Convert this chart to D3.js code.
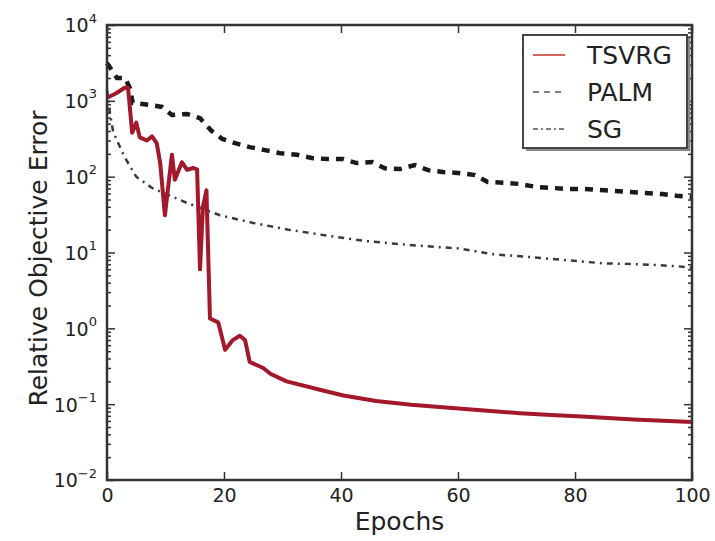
<!DOCTYPE html>
<meta charset="utf-8">
<script src="https://d3js.org/d3.v7.min.js"></script>
<style>
body { margin: 0; background: #fff; }
svg { display: block; }
text { font-family: "DejaVu Sans", sans-serif; fill: #222; }
.tick line { stroke: #333; stroke-width: 1.5px; }
</style>
<body>
<div class="chart"></div>
<script>

// values
var tsvrgEpochs = [0, 1.5, 3.1, 3.6, 4.3, 5, 5.6, 6.8, 7.7, 8.5, 9.1, 9.9, 11.1, 11.6, 12.8, 13.7, 14.7, 15.4, 15.9, 16.4, 17, 17.6, 19, 20.2, 21.5, 22.7, 23.6, 24.4, 26.7, 28, 30.7, 36.4, 40.4, 46, 52, 59, 65, 70.6, 76, 82, 90, 100];
var tsvrgValues = [1100, 1250, 1500, 1480, 380, 515, 330, 300, 340, 277, 150, 31, 195, 91, 155, 123, 130, 125, 6, 40, 66, 1.35, 1.2, 0.52, 0.7, 0.8, 0.7, 0.36, 0.30, 0.25, 0.2, 0.155, 0.13, 0.11, 0.098, 0.089, 0.082, 0.076, 0.072, 0.068, 0.063, 0.058];

var palmEpochs = [0, 1.7, 3.1, 3.9, 4.4, 7.4, 9.4, 11.1, 13.7, 15.9, 17.9, 19.7, 21.9, 24.4, 27, 29.6, 32.5, 35, 37.6, 40.3, 42.7, 45.3, 47.5, 50.1, 52.6, 54.9, 57.4, 60, 62.9, 65.1, 68, 70.6, 73.5, 76.1, 78.6, 81.4, 83.9, 86.5, 89.4, 92, 94.9, 97.4, 100];
var palmValues = [3160, 2000, 2000, 1480, 940, 880, 830, 650, 670, 590, 400, 315, 277, 245, 224, 204, 194, 176, 171, 171, 151, 156, 129, 126, 142, 122, 115, 112, 105, 85, 83, 80, 73, 71, 69, 69, 67, 65, 63, 61, 59, 56, 54];

var sgEpochs = [0, 0.5, 1, 1.7, 3, 5, 7.7, 13.7, 19.3, 25, 31, 37.8, 44, 50, 56.4, 59.8, 66, 72.3, 78.6, 84.8, 91, 97.4, 100];
var sgValues = [1400, 690, 410, 300, 182, 100, 71, 45, 31, 24.5, 20, 16.6, 14.2, 12.9, 11.8, 11.4, 9.5, 8.7, 7.9, 7.2, 7.0, 6.6, 6.3];

var seriesNames = ["TSVRG", "PALM", "SG"];
var xTicks = [0, 20, 40, 60, 80, 100];
var yExponents = [-2, -1, 0, 1, 2, 3, 4];

var width = 715, height = 541,
    margin = {top: 25, right: 23, bottom: 61, left: 107};

var svg = d3.select(".chart").append("svg")
    .attr("width", width)
    .attr("height", height);

var x = d3.scaleLinear().domain([0, 100]).range([margin.left, width - margin.right]);
var y = d3.scaleLog().domain([1e-2, 1e4]).range([height - margin.bottom, margin.top]);

var yMajor = yExponents.map(function(e) { return Math.pow(10, e); });
var yMinor = [];
yExponents.slice(0, -1).forEach(function(e) {
  for (var k = 2; k < 10; k++) yMinor.push(k * Math.pow(10, e));
});

// bottom / top axes
svg.append("g")
    .attr("transform", "translate(0," + y.range()[0] + ")")
    .call(d3.axisBottom(x).tickValues(xTicks).tickSizeInner(-8).tickSizeOuter(0).tickPadding(9))
    .call(function(g) { g.select(".domain").remove(); })
    .call(function(g) { g.selectAll("text").attr("font-size", 19).attr("fill", "#222"); });

svg.append("g")
    .attr("transform", "translate(0," + y.range()[1] + ")")
    .call(d3.axisTop(x).tickValues(xTicks).tickSizeInner(-8).tickSizeOuter(0).tickFormat(""))
    .call(function(g) { g.select(".domain").remove(); });

// left axis with 10^n labels
var left = svg.append("g")
    .attr("transform", "translate(" + x.range()[0] + ",0)")
    .call(d3.axisLeft(y).tickValues(yMajor).tickSizeInner(-8).tickSizeOuter(0).tickPadding(10).tickFormat(""))
    .call(function(g) { g.select(".domain").remove(); });

left.selectAll(".tick text").each(function(d) {
  var t = d3.select(this).attr("font-size", 19).attr("dy", "0.36em");
  var e = Math.round(Math.log10(d));
  t.append("tspan").text("10");
  t.append("tspan").attr("font-size", 13).attr("dy", "-0.75em")
    .text(e < 0 ? "\u2212" + (-e) : e);
});

svg.append("g")
    .attr("transform", "translate(" + x.range()[0] + ",0)")
    .call(d3.axisLeft(y).tickValues(yMinor).tickSizeInner(-4).tickSizeOuter(0).tickFormat(""))
    .call(function(g) { g.select(".domain").remove(); });

svg.append("g")
    .attr("transform", "translate(" + x.range()[1] + ",0)")
    .call(d3.axisRight(y).tickValues(yMajor).tickSizeInner(-8).tickSizeOuter(0).tickFormat(""))
    .call(function(g) { g.select(".domain").remove(); });

svg.append("g")
    .attr("transform", "translate(" + x.range()[1] + ",0)")
    .call(d3.axisRight(y).tickValues(yMinor).tickSizeInner(-4).tickSizeOuter(0).tickFormat(""))
    .call(function(g) { g.select(".domain").remove(); });

// lines
var line = d3.line()
    .x(function(d) { return x(d[0]); })
    .y(function(d) { return y(d[1]); });

var plot = svg.append("g");

plot.append("path")
    .datum(d3.zip(sgEpochs, sgValues))
    .attr("d", line)
    .attr("fill", "none")
    .attr("stroke", "#3a3a3a")
    .attr("stroke-width", 2.5)
    .attr("stroke-dasharray", "6,5,2,5");

plot.append("path")
    .datum(d3.zip(palmEpochs, palmValues))
    .attr("d", line)
    .attr("fill", "none")
    .attr("stroke", "#1a1a1a")
    .attr("stroke-width", 4.5)
    .attr("stroke-dasharray", "8,7");

plot.append("path")
    .datum(d3.zip(tsvrgEpochs, tsvrgValues))
    .attr("d", line)
    .attr("fill", "none")
    .attr("stroke", "#a3182b")
    .attr("stroke-width", 4)
    .attr("stroke-linejoin", "round");

// frame
svg.append("rect")
    .attr("x", x.range()[0])
    .attr("y", y.range()[1])
    .attr("width", x.range()[1] - x.range()[0])
    .attr("height", y.range()[0] - y.range()[1])
    .attr("fill", "none")
    .attr("stroke", "#333")
    .attr("stroke-width", 2.5);

// axis titles
svg.append("text")
    .attr("x", (x.range()[0] + x.range()[1]) / 2)
    .attr("y", 530)
    .attr("text-anchor", "middle")
    .attr("font-size", 25)
    .text("Epochs");

svg.append("text")
    .attr("transform", "translate(47," + ((y.range()[0] + y.range()[1]) / 2 + 6) + ") rotate(-90)")
    .attr("text-anchor", "middle")
    .attr("font-size", 25)
    .text("Relative Objective Error");

// legend
var legend = svg.append("g").attr("transform", "translate(523,35)");

legend.append("rect")
    .attr("x", 3).attr("y", 3)
    .attr("width", 164).attr("height", 113)
    .attr("fill", "#888");

legend.append("rect")
    .attr("width", 164).attr("height", 113)
    .attr("fill", "#fff")
    .attr("stroke", "#444")
    .attr("stroke-width", 2);

var legendStyles = [
  {stroke: "#c0392b", dash: null},
  {stroke: "#555", dash: "6,5"},
  {stroke: "#555", dash: "5,3,2,3"}
];

var item = legend.selectAll(".item")
    .data(seriesNames)
    .enter().append("g")
    .attr("class", "item")
    .attr("transform", function(d, i) { return "translate(0," + (20 + i * 37) + ")"; });

item.append("line")
    .attr("x1", 10).attr("x2", 42)
    .attr("stroke", function(d, i) { return legendStyles[i].stroke; })
    .attr("stroke-width", 1.5)
    .attr("stroke-dasharray", function(d, i) { return legendStyles[i].dash; });

item.append("text")
    .attr("x", 64)
    .attr("dy", "0.36em")
    .attr("font-size", 25)
    .text(function(d) { return d; });

</script>
</body>
</html>
